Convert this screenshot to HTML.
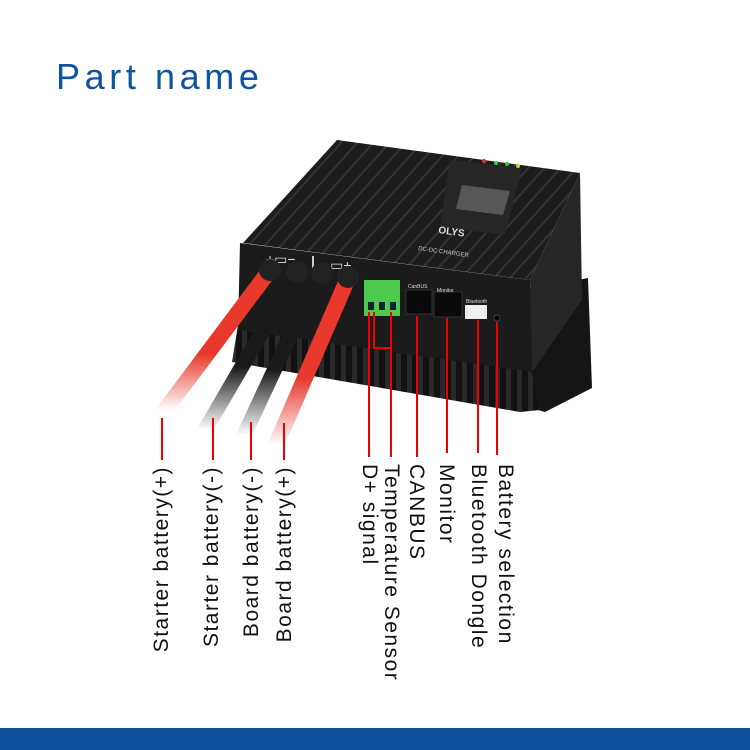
<!DOCTYPE html>
<html><head><meta charset="utf-8"><style>
html,body{margin:0;padding:0;background:#fff;}
svg{display:block;}
</style></head><body>
<svg width="750" height="750" viewBox="0 0 750 750" xmlns="http://www.w3.org/2000/svg" font-family="Liberation Sans, sans-serif">
<defs>
<linearGradient id="fadeR" x1="0" y1="0" x2="0" y2="1"><stop offset="0.6" stop-color="#e8392c"/><stop offset="1" stop-color="#e8392c" stop-opacity="0"/></linearGradient>
<linearGradient id="fadeK" x1="0" y1="0" x2="0" y2="1"><stop offset="0.6" stop-color="#1a1a1a"/><stop offset="1" stop-color="#1a1a1a" stop-opacity="0"/></linearGradient>
<pattern id="fins" width="11" height="10" patternUnits="userSpaceOnUse"><rect width="11" height="10" fill="#111"/><rect x="0" width="5" height="10" fill="#2a2a2a"/></pattern>
<pattern id="ridges" width="12" height="12" patternUnits="userSpaceOnUse" patternTransform="rotate(-48)"><rect width="12" height="12" fill="#1c1c1c"/><rect width="12" height="2" fill="#333"/></pattern>
</defs>
<text x="56" y="89" font-size="36" fill="#0e54a0" letter-spacing="4.6">Part name</text>

<!-- flange -->
<polygon points="515,292 588,278 592,388 545,412 520,405" fill="#151515"/>
<!-- fins -->
<polygon points="238,325 530,365 540,410 520,412 232,362" fill="url(#fins)"/>
<!-- side face -->
<polygon points="530,280 580,173 582,300 532,372" fill="#262626"/>
<!-- top surface -->
<polygon points="243,243 337,140 580,173 530,280" fill="url(#ridges)"/>
<polygon points="450,160 522,168 505,235 440,227" fill="#262626"/>
<polygon points="462,185 510,191 503,215 456,209" fill="#888" opacity="0.5"/>
<circle cx="484" cy="161" r="2" fill="#d33"/><circle cx="496" cy="163" r="2" fill="#3c3"/><circle cx="507" cy="164" r="2" fill="#3c3"/><circle cx="518" cy="166" r="2" fill="#cc3"/>
<text x="438" y="233" font-size="10" font-weight="bold" fill="#ddd" transform="rotate(8 438 233)">OLYS</text>
<text x="418" y="250" font-size="6" fill="#ccc" transform="rotate(8 418 250)">DC-DC CHARGER</text>
<!-- front face -->
<polygon points="240,243 530,280 532,372 238,330" fill="#1b1b1b"/>
<text x="266" y="264" font-size="14" fill="#ddd">+▭−</text>
<text x="322" y="270" font-size="14" fill="#ddd">−▭+</text>
<rect x="312" y="256" width="2" height="14" fill="#ccc"/>
<!-- green terminal -->
<rect x="364" y="280" width="36" height="36" fill="#4ecb4e"/>
<rect x="368" y="302" width="6" height="8" fill="#123"/><rect x="379" y="302" width="6" height="8" fill="#123"/><rect x="390" y="302" width="6" height="8" fill="#123"/>
<!-- RJ ports -->
<rect x="406" y="290" width="26" height="24" fill="#0a0a0a" stroke="#333"/>
<rect x="434" y="292" width="28" height="25" fill="#0a0a0a" stroke="#333"/>
<rect x="465" y="305" width="22" height="14" fill="#eee"/>
<circle cx="497" cy="318" r="3" fill="#000" stroke="#444"/>
<text x="408" y="288" font-size="5" fill="#ddd">CanBUS</text>
<text x="437" y="292" font-size="5" fill="#ddd">Monitor</text>
<text x="466" y="303" font-size="5" fill="#ddd">Bluetooth</text>

<!-- cables -->
<path d="M270,270 L165,410" stroke="url(#fadeR)" stroke-width="16" stroke-linecap="round" fill="none"/>
<path d="M297,272 L205,430" stroke="url(#fadeK)" stroke-width="15" stroke-linecap="round" fill="none"/>
<path d="M320,272 L244,435" stroke="url(#fadeK)" stroke-width="15" stroke-linecap="round" fill="none"/>
<path d="M348,278 L276,445" stroke="url(#fadeR)" stroke-width="16" stroke-linecap="round" fill="none"/>
<circle cx="270" cy="270" r="11" fill="#222"/><circle cx="297" cy="272" r="11" fill="#222"/><circle cx="322" cy="273" r="11" fill="#222"/><circle cx="348" cy="277" r="11" fill="#222"/>

<!-- lines -->
<g stroke="#e00" stroke-width="2" fill="none">
<line x1="162" y1="418" x2="162" y2="460"/>
<line x1="213" y1="418" x2="213" y2="460"/>
<line x1="251" y1="422" x2="251" y2="460"/>
<line x1="284" y1="423" x2="284" y2="460"/>
<line x1="369" y1="312" x2="369" y2="457"/>
<polyline points="374,312 374,348 391,348"/>
<line x1="391" y1="312" x2="391" y2="457"/>
<line x1="417" y1="316" x2="417" y2="457"/>
<line x1="447" y1="318" x2="447" y2="453"/>
<line x1="478" y1="320" x2="478" y2="453"/>
<line x1="497" y1="322" x2="497" y2="455"/>
</g>

<!-- labels -->
<g font-size="21" fill="#111" letter-spacing="1.5">
<text transform="translate(168,466) rotate(-90)" text-anchor="end">Starter battery(+)</text>
<text transform="translate(218,466) rotate(-90)" text-anchor="end">Starter battery(-)</text>
<text transform="translate(258,466) rotate(-90)" text-anchor="end">Board battery(-)</text>
<text transform="translate(291,466) rotate(-90)" text-anchor="end">Board battery(+)</text>
<text transform="translate(363,464) rotate(90)">D+ signal</text>
<text transform="translate(385,464) rotate(90)">Temperature Sensor</text>
<text transform="translate(410,464) rotate(90)">CANBUS</text>
<text transform="translate(440,464) rotate(90)">Monitor</text>
<text transform="translate(472,464) rotate(90)">Bluetooth Dongle</text>
<text transform="translate(499,464) rotate(90)">Battery selection</text>
</g>

<rect x="0" y="728" width="750" height="22" fill="#0d4f9a"/>
</svg>
</body></html>
